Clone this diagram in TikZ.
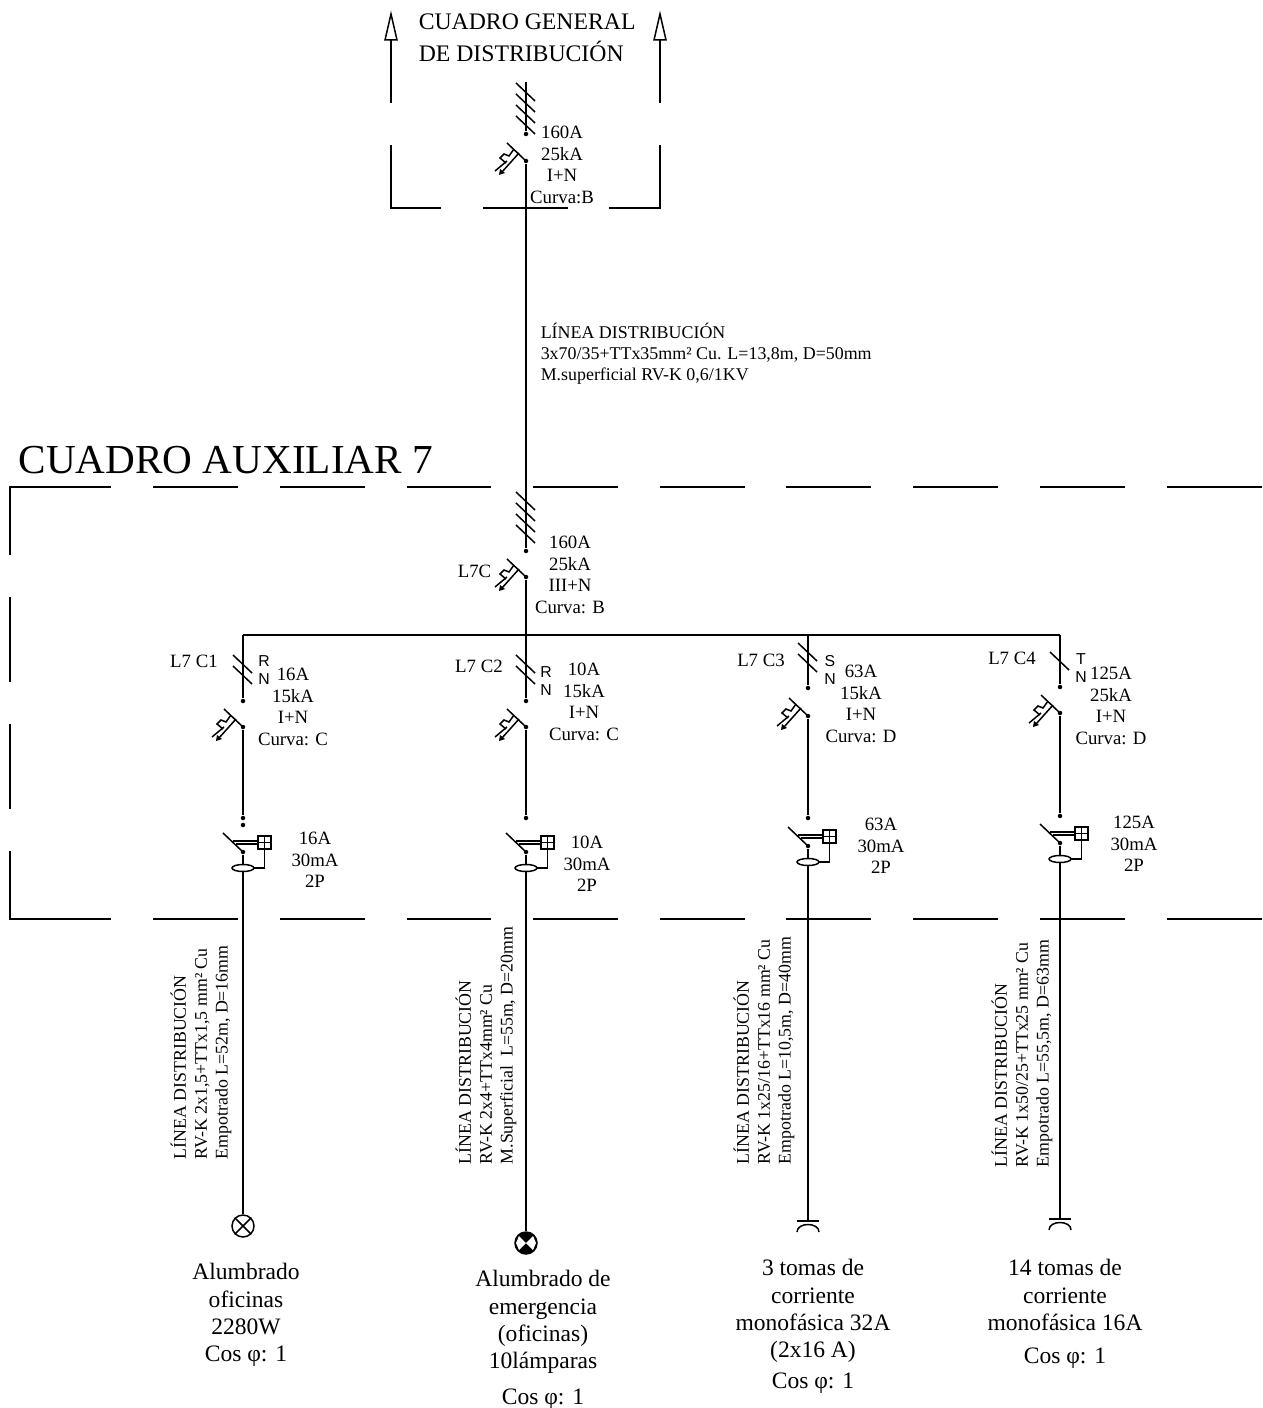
\documentclass[tikz,border=0pt]{standalone}
\usepackage{fontspec}
\setmainfont{Liberation Serif}
\setsansfont{Liberation Sans}
\usepackage{tikz}

\begin{document}
\begin{tikzpicture}[
  x=0.02cm,y=-0.02cm,
  line width=0.85pt,
  dot/.style={circle,inner sep=0pt,minimum size=4.5*0.02cm,fill},
  small/.style={inner sep=0pt,align=center,font=\fontsize{10.7}{12.25}\selectfont},
  mid/.style={inner sep=0pt,align=left,anchor=west,font=\fontsize{10.2}{12}\selectfont},
  big/.style={inner sep=0pt,align=center,font=\fontsize{13.4}{15.5}\selectfont},
  sans/.style={inner sep=0pt,align=center,font=\fontsize{9}{10.3}\selectfont\sffamily},
  vert/.style={inner sep=0pt,align=left,rotate=90,anchor=west,font=\fontsize{10.15}{11.9}\selectfont},
  lamp/.style={circle,draw,inner sep=0pt,minimum size=22*0.02cm}
  ]
\useasboundingbox (0,0) rectangle (1262,1408);
\def\xa{243}
\def\xb{526}
\def\xc{808}
\def\xd{1060}
\def\ybus{635}
\def\ytop{487}
\def\ybot{919}
% symbols
\def\hatch#1#2{\draw (#1-10,#2) -- (#1+9,#2+18);}
\def\breaker#1#2{
  \draw (#1,#2) -- (#1-19,#2-18);
  \draw (#1-12,#2-12) -- (#1-17,#2-5) -- (#1-22,#2-7) -- (#1-26,#2-3) -- (#1-20,#2+2);
  \draw (#1-7,#2-8) -- (#1-24,#2+11);
  \fill (#1-27,#2+14) -- (#1-26,#2+8) -- (#1-21,#2+12) -- cycle;
  \draw (#1-19,#2+0) -- (#1-31,#2+10);
}
\def\rcd#1#2{
  \draw (#1,#2) -- (#1-20,#2-19);
  \draw (#1-10,#2-11) -- (#1+15,#2-11);
  \draw (#1-7,#2-8) -- (#1+15,#2-8);
  \draw[fill=white] (#1+15,#2-16) rectangle (#1+28,#2-3);
  \draw (#1+21.5,#2-16) -- (#1+21.5,#2-3);
  \draw (#1+15,#2-9.5) -- (#1+28,#2-9.5);
  \draw[fill=white] (#1,#2+16) ellipse [x radius=11,y radius=3.5];
  \draw (#1+11,#2+16) -- (#1+21.5,#2+16) -- (#1+21.5,#2-3);
}
\def\socket#1#2{
  \draw (#1-11,#2) -- (#1+11,#2);
  \draw (#1-11,#2+11) .. controls (#1-11,#2+1) and (#1+11,#2+1) .. (#1+11,#2+11);
}
% dashed frame of the auxiliary board
\draw (111,\ytop) -- (10,\ytop) -- (10,555);
\draw (153,\ytop) -- (238,\ytop);
\draw (280,\ytop) -- (365,\ytop);
\draw (407,\ytop) -- (491,\ytop);
\draw (533,\ytop) -- (618,\ytop);
\draw (660,\ytop) -- (745,\ytop);
\draw (786,\ytop) -- (871,\ytop);
\draw (913,\ytop) -- (998,\ytop);
\draw (1040,\ytop) -- (1125,\ytop);
\draw (1167,\ytop) -- (1262,\ytop);
\draw (10,597) -- (10,682);
\draw (10,724) -- (10,809);
\draw (111,\ybot) -- (10,\ybot) -- (10,851);
\draw (153,\ybot) -- (238,\ybot);
\draw (280,\ybot) -- (365,\ybot);
\draw (407,\ybot) -- (491,\ybot);
\draw (533,\ybot) -- (618,\ybot);
\draw (660,\ybot) -- (745,\ybot);
\draw (786,\ybot) -- (871,\ybot);
\draw (913,\ybot) -- (998,\ybot);
\draw (1040,\ybot) -- (1125,\ybot);
\draw (1167,\ybot) -- (1262,\ybot);
% frame of the general board
\draw (391,103) -- (391,40);
\draw (385,40) -- (391,14) -- (397,40) -- cycle;
\draw (660,103) -- (660,40);
\draw (654,40) -- (660,14) -- (666,40) -- cycle;
\draw (391,145) -- (391,208) -- (441,208);
\draw (483,208) -- (568,208);
\draw (609,208) -- (660,208) -- (660,145);
% dots and ends
\coordinate (T) at (\xb,82);
\node[dot] (A) at (\xb,134){};
\node[dot] (B) at (\xb,161){};
\node[dot] (C) at (\xb,551){};
\node[dot] (D) at (\xb,577){};
\coordinate (J) at (\xb,\ybus);
\coordinate (JA) at (\xa,\ybus);
\coordinate (JD) at (\xd,\ybus);
\coordinate (JC) at (\xc,\ybus);
\node[dot] (A1) at (\xa,701){};
\node[dot] (A2) at (\xa,727){};
\node[dot] (A3) at (\xa,818){};
\node[dot] (A4) at (\xa,825){};
\node[dot] (A5) at (\xa,852){};
\node[dot] (B1) at (\xb,701){};
\node[dot] (B2) at (\xb,727){};
\node[dot] (B3) at (\xb,818){};
\node[dot] (B5) at (\xb,852){};
\node[dot] (C1) at (\xc,688){};
\node[dot] (C2) at (\xc,716){};
\node[dot] (C3) at (\xc,818){};
\node[dot] (C5) at (\xc,846){};
\node[dot] (D1) at (\xd,687){};
\node[dot] (D2) at (\xd,713){};
\node[dot] (D3) at (\xd,816){};
\node[dot] (D5) at (\xd,843){};
\node[lamp] (PA) at (\xa,1226){};
\node[lamp,fill] (PB) at (\xb,1243){};
\coordinate (PC) at (\xc,1221);
\coordinate (PD) at (\xd,1219);
\fill[white] (PB.center) -- (\xb-7,1236) -- (\xb-10,1243) -- (\xb-7,1250) -- cycle;
\fill[white] (PB.center) -- (\xb+7,1236) -- (\xb+10,1243) -- (\xb+7,1250) -- cycle;
\draw (PA.north west) -- (PA.south east);
\draw (PA.north east) -- (PA.south west);
% lines
\draw (T) -- (A);
\draw (B) -- (C);
\draw (D) -- (J) -- (B1);
\draw[line width=1.1pt] (JA) -- (JD);
\draw (JA) -- (A1);
\draw (JC) -- (C1);
\draw (JD) -- (D1);
\draw (A2) -- (A3);
\draw (A5) -- (PA);
\draw (B2) -- (B3);
\draw (B5) -- (PB);
\draw (C2) -- (C3);
\draw (C5) -- (PC);
\draw (D2) -- (D3);
\draw (D5) -- (PD);
% symbols on the lines
\hatch{\xb}{83}
\hatch{\xb}{94}
\hatch{\xb}{105}
\hatch{\xb}{116}
\breaker{\xb}{161}
\hatch{\xb}{492}
\hatch{\xb}{503}
\hatch{\xb}{514}
\hatch{\xb}{525}
\breaker{\xb}{577}
\hatch{\xa}{655}
\hatch{\xa}{666}
\breaker{\xa}{727}
\rcd{\xa}{852}
\hatch{\xb}{655}
\hatch{\xb}{666}
\breaker{\xb}{727}
\rcd{\xb}{852}
\hatch{\xc}{643}
\hatch{\xc}{654}
\breaker{\xc}{716}
\rcd{\xc}{846}
\hatch{\xd}{652}
\breaker{\xd}{713}
\rcd{\xd}{843}
\socket{\xc}{1221}
\socket{\xd}{1219}
% texts
\node[big,align=left,anchor=west,font=\fontsize{13.5}{15.5}\selectfont] (GEN) at (418,38){CUADRO GENERAL\\[2.6pt]DE DISTRIBUCIÓN};
\node[inner sep=0pt,anchor=west,font=\fontsize{23.45}{28}\selectfont] (AUX) at (18,460){CUADRO AUXILIAR 7};
\node[small] (Q0) at (562,165){160A\\25kA\\I+N\\Curva:B};
\node[mid] (LD) at (540,354){LÍNEA DISTRIBUCIÓN\\3x70/35+TTx35mm² Cu. L=13,8m, D=50mm\\M.superficial RV-K 0,6/1KV};
\node[small] (Q) at (570,575){160A\\25kA\\III+N\\Curva: B};
\node[small,anchor=east] (LQ) at (492,571){L7C};
\node[small] (LA) at (194,661){L7 C1};
\node[small] (LB) at (479,666){L7 C2};
\node[small] (LC) at (761,660){L7 C3};
\node[small] (LDD) at (1012,658){L7 C4};
\node[sans] (FA) at (264,670){R\\N};
\node[sans] (FB) at (546,681){R\\N};
\node[sans] (FC) at (830,670){S\\N};
\node[sans] (FD) at (1081,668){T\\N};
\node[small] (QA) at (293,707){16A\\15kA\\I+N\\Curva: C};
\node[small] (QB) at (584,702){10A\\15kA\\I+N\\Curva: C};
\node[small] (QC) at (861,704){63A\\15kA\\I+N\\Curva: D};
\node[small] (QD) at (1111,706){125A\\25kA\\I+N\\Curva: D};
\node[small] (RA) at (315,860){16A\\30mA\\2P};
\node[small] (RB) at (587,864){10A\\30mA\\2P};
\node[small] (RC) at (881,846){63A\\30mA\\2P};
\node[small] (RD) at (1134,844){125A\\30mA\\2P};
\node[vert] (VA) at (201,1160){LÍNEA DISTRIBUCIÓN\\RV-K 2x1,5+TTx1,5 mm² Cu\\Empotrado L=52m, D=16mm};
\node[vert] (VB) at (486,1165){LÍNEA DISTRIBUCIÓN\\RV-K 2x4+TTx4mm² Cu\\M.Superficial\ \ L=55m, D=20mm};
\node[vert] (VC) at (764,1165){LÍNEA DISTRIBUCIÓN\\RV-K 1x25/16+TTx16 mm² Cu\\Empotrado L=10,5m, D=40mm};
\node[vert] (VD) at (1022,1168){LÍNEA DISTRIBUCIÓN\\RV-K 1x50/25+TTx25 mm² Cu\\Empotrado L=55,5m, D=63mm};
\node[big] (TA) at (246,1315){Alumbrado\\oficinas\\2280W\\Cos φ: 1};
\node[big] (TB) at (543,1322){Alumbrado de\\emergencia\\(oficinas)\\10lámparas};
\node[big] (TB2) at (543,1399){Cos φ: 1};
\node[big] (TC) at (813,1311){3 tomas de\\corriente\\monofásica 32A\\(2x16 A)};
\node[big] (TC2) at (813,1383){Cos φ: 1};
\node[big] (TD) at (1065,1295){14 tomas de\\corriente\\monofásica 16A};
\node[big] (TD2) at (1065,1358){Cos φ: 1};
\end{tikzpicture}
\end{document}
